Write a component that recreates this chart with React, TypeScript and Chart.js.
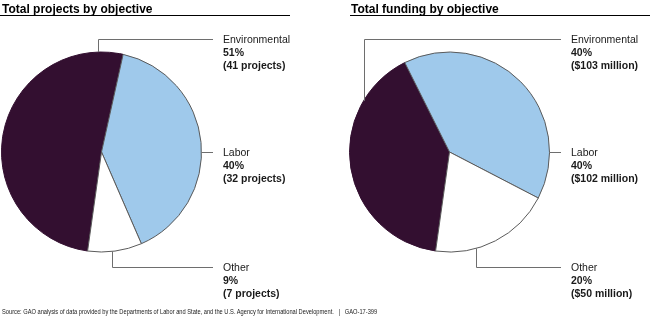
import React, { useEffect, useRef } from 'react';
import { Chart, registerables } from 'chart.js';

Chart.register(...registerables);

// ---- data ----
const categories = ['Environmental', 'Labor', 'Other'];
const projectCounts = [41, 32, 7];
const fundingMillions = [103, 102, 50];
const leftTitle = 'Total projects by objective';
const rightTitle = 'Total funding by objective';
const sourceNote =
  'Source: GAO analysis of data provided by the Departments of Labor and State, and the U.S. Agency for International Development.   |   GAO-17-399';

// ---- style ----
const sliceColors = ['#330f30', '#9fc9eb', '#ffffff'];
const sliceBorders = ['#330f30', '#5a5a5a', '#5a5a5a'];
const FONT = '"Liberation Sans", Arial, Helvetica, sans-serif';
const LEADER_COLOR = '#6e6e6e';

type Leader = { type: 'up' | 'side' | 'down'; dx?: number; y?: number };

const leftLeaders: Leader[] = [
  { type: 'up', dx: -3.2, y: 38.5 },
  { type: 'side' },
  { type: 'down', dx: 10.5, y: 266.5 },
];
const rightLeaders: Leader[] = [
  { type: 'up', dx: -86, y: 38.5 },
  { type: 'side' },
  { type: 'down', dx: 26.5, y: 266.5 },
];

const pct = (vals: number[], i: number) => {
  const t = vals.reduce((a, b) => a + b, 0);
  return Math.round((vals[i] / t) * 100) + '%';
};

const labelPlugin = {
  id: 'pieLabels',
  afterDatasetsDraw(chart: any, _args: any, opts: any) {
    const meta = chart.getDatasetMeta(0);
    const el = meta.data[0];
    if (!el) return;
    const { x: cx, y: cy, outerRadius: r } = el.getProps(['x', 'y', 'outerRadius'], true);
    const ctx = chart.ctx as CanvasRenderingContext2D;
    const leaders: Leader[] = opts.leaders;
    const lines: string[][] = opts.lines;
    const lineEnd = cx + r + 11.5;
    const textX = cx + r + 21.5;
    ctx.save();
    ctx.strokeStyle = LEADER_COLOR;
    ctx.lineWidth = 1;
    leaders.forEach((ld, i) => {
      let ly: number;
      ctx.beginPath();
      if (ld.type === 'side') {
        ly = Math.round(cy) + 0.5;
        ctx.moveTo(cx + r, ly);
        ctx.lineTo(lineEnd, ly);
      } else {
        const dx = ld.dx || 0;
        const dy = Math.sqrt(Math.max(r * r - dx * dx, 0));
        const ax = Math.round(cx + dx) + 0.5;
        const ay = ld.type === 'up' ? cy - dy : cy + dy;
        ly = Math.round(ld.y as number) + 0.5;
        ctx.moveTo(ax, ay);
        ctx.lineTo(ax, ly);
        ctx.lineTo(lineEnd, ly);
      }
      ctx.stroke();
      ctx.fillStyle = '#1a1a1a';
      ctx.textBaseline = 'middle';
      ctx.textAlign = 'left';
      lines[i].forEach((t, k) => {
        ctx.font = (k === 0 ? '' : 'bold ') + '10.5px ' + FONT;
        ctx.fillText(t, textX, ly + 0.5 + k * 13);
      });
    });
    ctx.restore();
  },
};

type PieProps = {
  values: number[];
  detail: (v: number) => string;
  leaders: Leader[];
  left: number;
  padding: { left: number; right: number; top: number; bottom: number };
  radius: number;
};

function PieChart({ values, detail, leaders, left, padding, radius }: PieProps) {
  const ref = useRef<HTMLCanvasElement>(null);
  useEffect(() => {
    if (!ref.current) return;
    const lines = categories.map((c, i) => [c, pct(values, i), detail(values[i])]);
    const chart = new Chart(ref.current, {
      type: 'pie',
      data: {
        labels: categories,
        datasets: [
          {
            data: values,
            backgroundColor: sliceColors,
            borderColor: sliceBorders,
            borderWidth: 1,
          },
        ],
      },
      options: {
        responsive: false,
        maintainAspectRatio: false,
        animation: false,
        devicePixelRatio: 1,
        rotation: 188,
        radius: radius,
        layout: { padding },
        events: [],
        plugins: {
          legend: { display: false },
          tooltip: { enabled: false },
          // @ts-ignore
          pieLabels: { leaders, lines },
        },
      } as any,
      plugins: [labelPlugin as any],
    });
    return () => chart.destroy();
  }, []);
  return (
    <canvas
      ref={ref}
      width={325}
      height={328}
      style={{ position: 'absolute', left, top: 0, width: 325, height: 328 }}
    />
  );
}

export default function App() {
  const footRef = useRef<HTMLSpanElement>(null);
  useEffect(() => {
    const s = footRef.current;
    if (s) {
      const w = s.offsetWidth;
      if (w > 0) s.style.transform = `scaleX(${375 / w})`;
    }
  }, []);
  const titleStyle: React.CSSProperties = {
    position: 'absolute',
    top: 2,
    font: `bold 12px ${FONT}`,
    lineHeight: '14px',
    color: '#000',
    whiteSpace: 'nowrap',
  };
  return (
    <div
      style={{
        position: 'absolute',
        left: 0,
        top: 0,
        width: 650,
        height: 328,
        background: '#fff',
        overflow: 'hidden',
      }}
    >
      <PieChart
        values={projectCounts}
        detail={(v) => `(${v} projects)`}
        leaders={leftLeaders}
        left={0}
        padding={{ left: 0, right: 122, top: 52, bottom: 76 }}
        radius={100}
      />
      <PieChart
        values={fundingMillions}
        detail={(v) => `($${v} million)`}
        leaders={rightLeaders}
        left={325}
        padding={{ left: 24, right: 100, top: 52, bottom: 76 }}
        radius={100}
      />
      <div style={{ ...titleStyle, left: 2 }}>{leftTitle}</div>
      <div style={{ ...titleStyle, left: 351 }}>{rightTitle}</div>
      <div style={{ position: 'absolute', left: 0, top: 15, width: 290, height: 1.3, background: '#000' }} />
      <div style={{ position: 'absolute', left: 350, top: 15, width: 300, height: 1.3, background: '#000' }} />
      <span
        ref={footRef}
        style={{
          position: 'absolute',
          left: 2,
          top: 307,
          font: `7px ${FONT}`,
          lineHeight: '10px',
          color: '#222',
          whiteSpace: 'pre',
          transformOrigin: 'left top',
          display: 'inline-block',
        }}
      >
        {sourceNote}
      </span>
    </div>
  );
}
